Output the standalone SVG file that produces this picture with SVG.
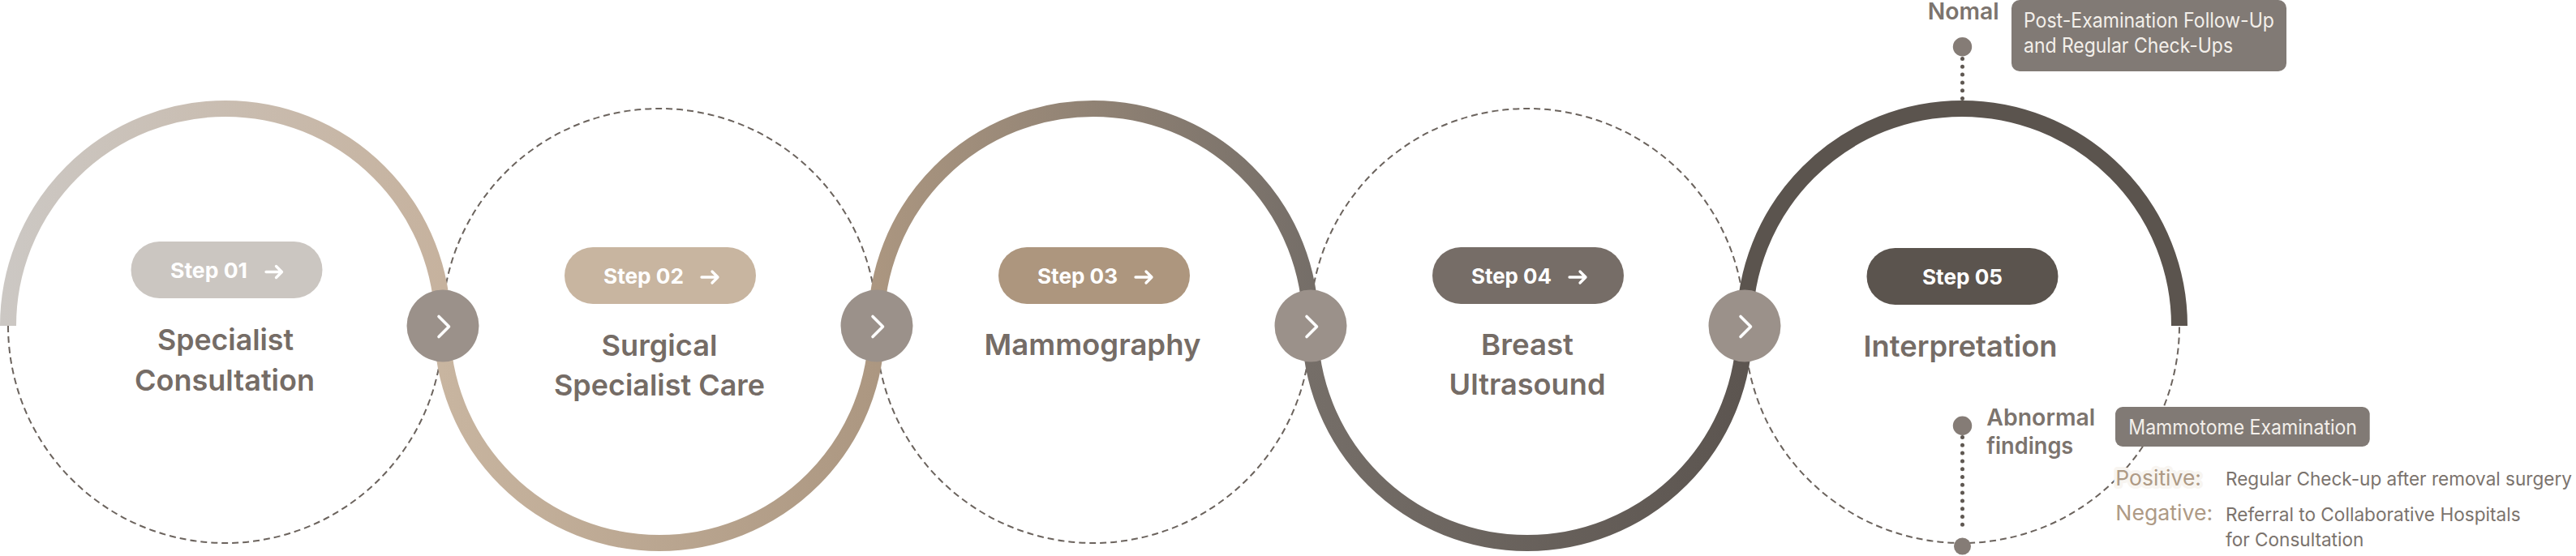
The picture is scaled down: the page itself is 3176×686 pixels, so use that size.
<svg xmlns="http://www.w3.org/2000/svg" width="3176" height="686" viewBox="0 0 3176 686">
<style>
.dash{fill:none;stroke:#6b635d;stroke-width:2;stroke-dasharray:8 5}
.solid{fill:none;stroke-width:20}
.btn{fill:#9b918a}
.chev{fill:none;stroke:#fff;stroke-width:3.6;stroke-linecap:round;stroke-linejoin:round}
.arr{fill:none;stroke:#fff;stroke-width:3.3;stroke-linecap:round;stroke-linejoin:round}
.step{font-family:Inter,"Liberation Sans",sans-serif;font-weight:700;font-size:26px;fill:#fff}
.title{font-family:Inter,"Liberation Sans",sans-serif;font-weight:600;font-size:36px;fill:#756c66;text-anchor:middle}
.lab{font-family:Inter,"Liberation Sans",sans-serif;font-weight:600;font-size:28px;fill:#7c746e}
.boxt{font-family:Inter,"Liberation Sans",sans-serif;font-weight:400;font-size:25px;fill:#f3efea}
.box{fill:#817a75}
.res{font-family:Inter,"Liberation Sans",sans-serif;font-weight:400;font-size:26px;fill:#ae9a85}
.desc{font-family:Inter,"Liberation Sans",sans-serif;font-weight:400;font-size:23px;fill:#7b736d}
.dot{fill:#857c76}
.dotline{fill:none;stroke:#5f5852;stroke-width:5;stroke-linecap:round;stroke-dasharray:0 9.8}
</style>
<defs>
<linearGradient id="g1" gradientUnits="userSpaceOnUse" x1="0" y1="0" x2="546" y2="0"><stop offset="0" stop-color="#ccc8c4"/><stop offset="1" stop-color="#c6b29e"/></linearGradient>
<linearGradient id="g2" gradientUnits="userSpaceOnUse" x1="545" y1="0" x2="1081" y2="0"><stop offset="0" stop-color="#c8b5a0"/><stop offset="1" stop-color="#ac9781"/></linearGradient>
<linearGradient id="g3" gradientUnits="userSpaceOnUse" x1="1080" y1="0" x2="1616" y2="0"><stop offset="0" stop-color="#ab9680"/><stop offset="1" stop-color="#756e68"/></linearGradient>
<linearGradient id="g4" gradientUnits="userSpaceOnUse" x1="1615" y1="0" x2="2151" y2="0"><stop offset="0" stop-color="#756e68"/><stop offset="1" stop-color="#5c5550"/></linearGradient>
</defs>

<g id="connectors">
<path class="dash" d="M10 402 A268 268 0 0 0 546 402"/>
<path class="dash" d="M545 402 A268 268 0 0 1 1081 402"/>
<path class="dash" d="M1080 402 A268 268 0 0 0 1616 402"/>
<path class="dash" d="M1615 402 A268 268 0 0 1 2151 402"/>
<path class="dash" d="M2151 402 A268 268 0 0 0 2687 402"/>
<path class="solid" stroke="url(#g1)" d="M10 402 A268 268 0 0 1 546 402"/>
<path class="solid" stroke="url(#g2)" d="M545 402 A268 268 0 0 0 1081 402"/>
<path class="solid" stroke="url(#g3)" d="M1080 402 A268 268 0 0 1 1616 402"/>
<path class="solid" stroke="url(#g4)" d="M1615 402 A268 268 0 0 0 2151 402"/>
<path class="solid" stroke="#5b544e" d="M2151 402 A268 268 0 0 1 2687 402"/>
<line class="dotline" x1="2419.5" y1="72.5" x2="2419.5" y2="123"/>
<line class="dotline" x1="2419.5" y1="539.5" x2="2419.5" y2="653"/>
</g>

<g id="btn1"><circle class="btn" cx="546" cy="402" r="44.5"/><path class="chev" d="M541 390.5 L553.5 403 L541 415.5"/></g>
<g id="btn2"><circle class="btn" cx="1081" cy="402" r="44.5"/><path class="chev" d="M1076 390.5 L1088.5 403 L1076 415.5"/></g>
<g id="btn3"><circle class="btn" cx="1616" cy="402" r="44.5"/><path class="chev" d="M1611 390.5 L1623.5 403 L1611 415.5"/></g>
<g id="btn4"><circle class="btn" cx="2151" cy="402" r="44.5"/><path class="chev" d="M2146 390.5 L2158.5 403 L2146 415.5"/></g>

<g id="step1">
<rect x="161.5" y="298" width="236" height="70" rx="35" fill="#cbc6c1"/>
<text class="step" x="210" y="343.3" textLength="95" lengthAdjust="spacingAndGlyphs">Step 01</text>
<path class="arr" d="M328 335.5 H347.5 M340.5 328.5 L347.5 335.5 L340.5 342.5"/>
<text class="title" x="278" y="431.7" textLength="168" lengthAdjust="spacingAndGlyphs">Specialist</text>
<text class="title" x="277" y="481.7" textLength="222" lengthAdjust="spacingAndGlyphs">Consultation</text>
</g>

<g id="step2">
<rect x="696" y="305" width="236" height="70" rx="35" fill="#c8b5a0"/>
<text class="step" x="744" y="350.3" textLength="99" lengthAdjust="spacingAndGlyphs">Step 02</text>
<path class="arr" d="M865 342 H885 M878 335 L885 342 L878 349"/>
<text class="title" x="813" y="438.6" textLength="143" lengthAdjust="spacingAndGlyphs">Surgical</text>
<text class="title" x="813" y="487.6" textLength="260" lengthAdjust="spacingAndGlyphs">Specialist Care</text>
</g>

<g id="step3">
<rect x="1231" y="305" width="236" height="70" rx="35" fill="#ad967e"/>
<text class="step" x="1279" y="350.3" textLength="99" lengthAdjust="spacingAndGlyphs">Step 03</text>
<path class="arr" d="M1400 342 H1420 M1413 335 L1420 342 L1413 349"/>
<text class="title" x="1347" y="438" textLength="267" lengthAdjust="spacingAndGlyphs">Mammography</text>
</g>

<g id="step4">
<rect x="1766" y="305" width="236" height="70" rx="35" fill="#766d67"/>
<text class="step" x="1814" y="350.3" textLength="99" lengthAdjust="spacingAndGlyphs">Step 04</text>
<path class="arr" d="M1935 342 H1955 M1948 335 L1955 342 L1948 349"/>
<text class="title" x="1883" y="438" textLength="114" lengthAdjust="spacingAndGlyphs">Breast</text>
<text class="title" x="1883" y="487" textLength="193" lengthAdjust="spacingAndGlyphs">Ultrasound</text>
</g>

<g id="step5">
<rect x="2301.5" y="306" width="236" height="70" rx="35" fill="#5b544e"/>
<text class="step" x="2419.5" y="350.7" text-anchor="middle" textLength="99" lengthAdjust="spacingAndGlyphs">Step 05</text>
<text class="title" x="2417" y="440" textLength="239" lengthAdjust="spacingAndGlyphs">Interpretation</text>
</g>

<g id="normal">
<circle class="dot" cx="2419.5" cy="57.7" r="11.7"/>
<text class="lab" x="2376.7" y="24" textLength="88" lengthAdjust="spacingAndGlyphs">Nomal</text>
<rect class="box" x="2480" y="0" width="339" height="88" rx="10"/>
<text class="boxt" x="2495" y="34.3" textLength="309" lengthAdjust="spacingAndGlyphs">Post-Examination Follow-Up</text>
<text class="boxt" x="2495" y="65" textLength="258" lengthAdjust="spacingAndGlyphs">and Regular Check-Ups</text>
</g>

<g id="abnormal">
<circle class="dot" cx="2419.5" cy="525.3" r="11.7"/>
<circle class="dot" cx="2419.5" cy="674" r="10.5"/>
<text class="lab" x="2449.3" y="525.3" textLength="134" lengthAdjust="spacingAndGlyphs">Abnormal</text>
<text class="lab" x="2449.3" y="560" textLength="107" lengthAdjust="spacingAndGlyphs">findings</text>
<rect class="box" x="2608" y="502" width="313.7" height="49" rx="9"/>
<text class="boxt" x="2624.3" y="536" textLength="281.7" lengthAdjust="spacingAndGlyphs">Mammotome Examination</text>
<text class="res" x="2608.3" y="599.3" textLength="105.7" lengthAdjust="spacingAndGlyphs" stroke="#f8f5f1" stroke-width="8" stroke-linejoin="round" paint-order="stroke">Positive:</text>
<text class="desc" x="2744" y="599.3" textLength="427" lengthAdjust="spacingAndGlyphs">Regular Check-up after removal surgery</text>
<text class="res" x="2608.3" y="642" textLength="120" lengthAdjust="spacingAndGlyphs">Negative:</text>
<text class="desc" x="2744" y="642.7" textLength="363.7" lengthAdjust="spacingAndGlyphs">Referral to Collaborative Hospitals</text>
<text class="desc" x="2744" y="674.3" textLength="170.3" lengthAdjust="spacingAndGlyphs">for Consultation</text>
</g>
</svg>
